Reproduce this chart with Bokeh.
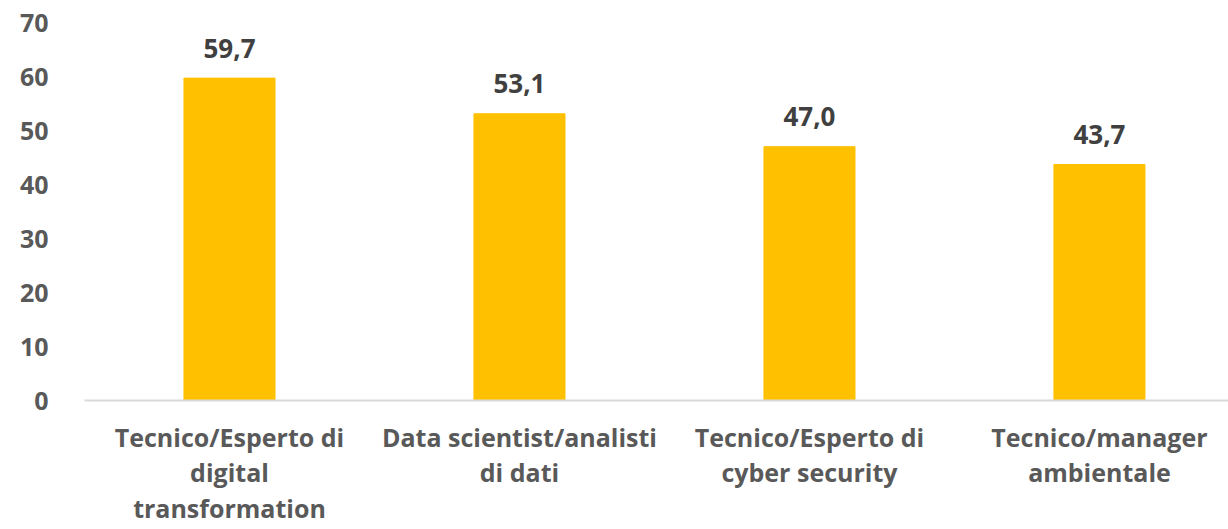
from bokeh.plotting import figure
from bokeh.models import ColumnDataSource, Range1d, FixedTicker
from bokeh.core.properties import value
from bokeh.embed import file_html
from bokeh.resources import INLINE

categories = [
    "Tecnico/Esperto di\ndigital\ntransformation",
    "Data scientist/analisti\ndi dati",
    "Tecnico/Esperto di\ncyber security",
    "Tecnico/manager\nambientale",
]
values = [59.7, 53.1, 47.0, 43.7]
y_ticks = [0, 10, 20, 30, 40, 50, 60, 70]

xs = list(range(len(categories)))
labels = [f"{v:.1f}".replace(".", ",") for v in values]
src = ColumnDataSource(dict(x=xs, top=values, label=labels))

FONT = "Open Sans"

p = figure(width=1228, height=529, output_backend="svg", toolbar_location=None,
           x_range=Range1d(-0.5, 3.445), y_range=Range1d(0, 70),
           min_border_left=84, min_border_right=0, min_border_top=22,
           min_border_bottom=129)
p.outline_line_color = None
p.grid.visible = False
p.background_fill_color = "white"
p.border_fill_color = "white"

p.vbar(x="x", top="top", width=0.314, source=src, color="#FFC000")

p.text(x="x", y="top", text="label", source=src, text_align="center",
       text_baseline="middle", y_offset=-30,
       text_font=value(FONT), text_font_style="bold", text_font_size="26px",
       text_color="#404040")

yax = p.yaxis[0]
yax.ticker = FixedTicker(ticks=y_ticks)
yax.axis_line_color = None
yax.major_tick_line_color = None
yax.minor_tick_line_color = None
yax.major_label_standoff = 30
yax.major_label_text_font = FONT
yax.major_label_text_font_style = "bold"
yax.major_label_text_font_size = "25px"
yax.major_label_text_color = "#595959"

xax = p.xaxis[0]
xax.ticker = FixedTicker(ticks=xs)
xax.major_label_overrides = {i: c for i, c in zip(xs, categories)}
xax.axis_line_color = "#D9D9D9"
xax.axis_line_width = 2
xax.major_tick_line_color = None
xax.minor_tick_line_color = None
xax.major_label_standoff = 13
xax.major_label_text_font = FONT
xax.major_label_text_font_style = "bold"
xax.major_label_text_font_size = "25px"
xax.major_label_text_color = "#595959"
xax.major_label_text_line_height = 1.05

open("out.html", "w").write(file_html(p, INLINE))
